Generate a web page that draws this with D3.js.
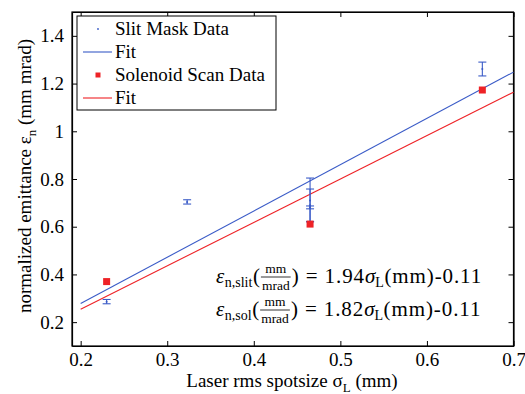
<!DOCTYPE html>
<html>
<head>
<meta charset="utf-8">
<script src="https://cdn.jsdelivr.net/npm/d3@7"></script>
<style>
  body { margin: 0; background: #fff; }
  text { font-family: "Liberation Serif", "Times New Roman", serif; fill: #000; }
</style>
</head>
<body>
<div id="chart"></div>
<script>
// slit mask measurements (value + lower / upper end of error bar)
const slitX = [0.23, 0.323, 0.465, 0.465, 0.465, 0.664]
const slitY = [0.286, 0.704, 0.681, 0.71, 0.69, 1.261]
const slitLo = [0.277, 0.695, 0.675, 0.62, 0.622, 1.232]
const slitHi = [0.295, 0.713, 0.687, 0.804, 0.758, 1.29]

// solenoid scan measurements
const solX = [0.23, 0.465, 0.664]
const solY = [0.37, 0.611, 1.173]

// linear fits as printed on the chart
const fitRange = [0.2, 0.7]
const slitFit = [1.94, -0.11]
const solFit = [1.82, -0.11]

const xTicks = [0.2, 0.3, 0.4, 0.5, 0.6, 0.7]
const yTicks = [0.2, 0.4, 0.6, 0.8, 1, 1.2, 1.4]

const width = 525
const height = 394
const mLeft = 72, mRight = 513.5, mTop = 12, mBottom = 346
const blue = "#3a5bc7"
const red = "#ee2226"

const svg = d3.select("#chart").append("svg")
  .attr("width", width)
  .attr("height", height)

const xScale = d3.scaleLinear().domain([0.19, 0.7]).range([mLeft, mRight])
const yScale = d3.scaleLinear().domain([0.1, 1.5]).range([mBottom, mTop])

// axes, ticks inward on all four sides like matlab's box
svg.append("g")
  .attr("transform", `translate(0, ${mBottom})`)
  .call(d3.axisBottom(xScale).tickValues(xTicks).tickSizeInner(-5).tickSizeOuter(0).tickPadding(7).tickFormat(d3.format("")))
svg.append("g")
  .attr("transform", `translate(0, ${mTop})`)
  .call(d3.axisTop(xScale).tickValues(xTicks).tickSizeInner(-5).tickSizeOuter(0).tickFormat(""))
svg.append("g")
  .attr("transform", `translate(${mLeft}, 0)`)
  .call(d3.axisLeft(yScale).tickValues(yTicks).tickSizeInner(-5).tickSizeOuter(0).tickPadding(8).tickFormat(d3.format("")))
svg.append("g")
  .attr("transform", `translate(${mRight}, 0)`)
  .call(d3.axisRight(yScale).tickValues(yTicks).tickSizeInner(-5).tickSizeOuter(0).tickFormat(""))

svg.selectAll(".domain").attr("stroke", "#000").attr("stroke-width", 1.2)
svg.selectAll(".tick line").attr("stroke", "#000")
svg.selectAll(".tick text")
  .attr("font-family", "Liberation Serif")
  .attr("font-size", 19)
  .attr("fill", "#000")

svg.append("rect")
  .attr("x", mLeft).attr("y", mTop)
  .attr("width", mRight - mLeft).attr("height", mBottom - mTop)
  .attr("fill", "none").attr("stroke", "#000").attr("stroke-width", 1.2)

// fit lines
const line = d3.line().x(d => xScale(d[0])).y(d => yScale(d[1]))
svg.append("path")
  .datum(fitRange.map(x => [x, slitFit[0] * x + slitFit[1]]))
  .attr("fill", "none").attr("stroke", blue).attr("stroke-width", 1.1)
  .attr("d", line)
svg.append("path")
  .datum(fitRange.map(x => [x, solFit[0] * x + solFit[1]]))
  .attr("fill", "none").attr("stroke", red).attr("stroke-width", 1.1)
  .attr("d", line)

// error bars
const bars = svg.append("g").attr("stroke", blue).attr("stroke-width", 1.1)
slitX.forEach((x, i) => {
  const cx = xScale(x)
  bars.append("line")
    .attr("x1", cx).attr("x2", cx)
    .attr("y1", yScale(slitLo[i])).attr("y2", yScale(slitHi[i]))
  ;[slitLo[i], slitHi[i]].forEach(v => {
    bars.append("line")
      .attr("x1", cx - 4).attr("x2", cx + 4)
      .attr("y1", yScale(v)).attr("y2", yScale(v))
  })
  bars.append("circle")
    .attr("cx", cx).attr("cy", yScale(slitY[i])).attr("r", 1)
    .attr("fill", blue).attr("stroke", "none")
})

svg.selectAll(".sol")
  .data(solX)
  .enter()
  .append("rect")
  .attr("x", (d) => xScale(d) - 3.5)
  .attr("y", (d, i) => yScale(solY[i]) - 3.5)
  .attr("width", 7).attr("height", 7)
  .attr("fill", red)

// legend
const legend = svg.append("g")
legend.append("rect")
  .attr("x", 77).attr("y", 16).attr("width", 199).attr("height", 94)
  .attr("fill", "#fff").attr("stroke", "#000").attr("stroke-width", 1)
const legendItems = [
  {label: "Slit Mask Data", kind: "dot", color: blue},
  {label: "Fit", kind: "line", color: blue},
  {label: "Solenoid Scan Data", kind: "square", color: red},
  {label: "Fit", kind: "line", color: red}
]
legendItems.forEach((item, i) => {
  const yy = 29 + i * 23
  if (item.kind === "line") {
    legend.append("line").attr("x1", 83).attr("x2", 112).attr("y1", yy).attr("y2", yy)
      .attr("stroke", item.color).attr("stroke-width", 1.1)
  } else if (item.kind === "dot") {
    legend.append("circle").attr("cx", 98).attr("cy", yy).attr("r", 0.9).attr("fill", item.color)
  } else {
    legend.append("rect").attr("x", 95.5).attr("y", yy - 2.5).attr("width", 5).attr("height", 5).attr("fill", item.color)
  }
  legend.append("text")
    .attr("x", 115).attr("y", yy + 6)
    .attr("font-size", 19)
    .text(item.label)
})

// axis labels
const xl = svg.append("text")
  .attr("x", 292).attr("y", 387)
  .attr("text-anchor", "middle")
  .attr("font-size", 19)
xl.append("tspan").text("Laser rms spotsize σ")
xl.append("tspan").attr("font-size", 13).attr("dy", 5).text("L")
xl.append("tspan").attr("dy", -5).text(" (mm)")

const yl = svg.append("text")
  .attr("transform", "translate(31, 176) rotate(-90)")
  .attr("text-anchor", "middle")
  .attr("font-size", 19)
yl.append("tspan").text("normalized emittance  ε")
yl.append("tspan").attr("font-size", 13).attr("dy", 5).text("n")
yl.append("tspan").attr("dy", -5).text(" (mm mrad)")

// fit equations, laid out piece by piece
function equation(x0, base, coef, subName) {
  const g = svg.append("g")
  let x = x0
  const put = (str, opts = {}) => {
    const t = g.append("text")
      .attr("x", x).attr("y", base + (opts.dy || 0))
      .attr("font-size", opts.size || 21)
      .attr("font-style", opts.italic ? "italic" : "normal")
      .attr("letter-spacing", opts.ls || 0)
      .text(str)
    x += t.node().getComputedTextLength() + (opts.pad || 0)
  }
  put("ε", {italic: true, size: 21, pad: 0.5})
  put(subName, {size: 14, dy: 4, pad: 0.5})
  put("(", {size: 21, pad: 1})
  // little stacked mm / mrad fraction
  const fx = x + 1
  const num = g.append("text").attr("x", fx).attr("y", base - 10).attr("font-size", 13.5).text("mm")
  const den = g.append("text").attr("x", fx).attr("y", base + 6.5).attr("font-size", 13.5).text("mrad")
  const fw = den.node().getComputedTextLength()
  num.attr("x", fx + (fw - num.node().getComputedTextLength()) / 2)
  g.append("line").attr("x1", fx - 1).attr("x2", fx + fw + 1)
    .attr("y1", base - 6).attr("y2", base - 6).attr("stroke", "#000").attr("stroke-width", 0.8)
  x = fx + fw + 2
  put(") = " + coef, {size: 21, ls: 0.9})
  put("σ", {italic: true, size: 21})
  put("L", {size: 14, dy: 4, pad: 0.5})
  put("(mm)-0.11", {size: 21, ls: 0.9})
}
equation(216, 283, "1.94", "n,slit")
equation(216, 316, "1.82", "n,sol")
</script>
</body>
</html>
